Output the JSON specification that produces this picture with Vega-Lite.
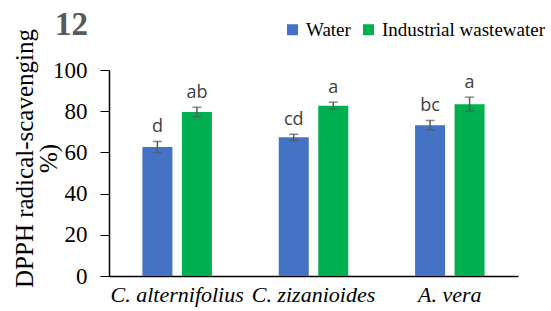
{
  "$schema": "https://vega.github.io/schema/vega-lite/v6.json",
  "width": 409,
  "height": 206,
  "autosize": {"type": "none"},
  "padding": {"left": 109, "top": 70, "right": 33, "bottom": 35},
  "background": "white",
  "title": {
    "text": "12",
    "anchor": "start",
    "frame": "group",
    "dx": -54,
    "dy": 48,
    "baseline": "alphabetic",
    "offset": 0,
    "font": "Liberation Serif",
    "fontSize": 33,
    "fontWeight": "bold",
    "color": "#595959"
  },
  "data": {
    "values": [
      {"species": "C. alternifolius", "treatment": "Water", "value": 62.6, "lo": 59.9, "hi": 65.3, "label": "d"},
      {"species": "C. alternifolius", "treatment": "Industrial wastewater", "value": 79.6, "lo": 77.3, "hi": 81.9, "label": "ab"},
      {"species": "C. zizanioides", "treatment": "Water", "value": 67.3, "lo": 65.8, "hi": 68.8, "label": "cd"},
      {"species": "C. zizanioides", "treatment": "Industrial wastewater", "value": 82.7, "lo": 81.0, "hi": 84.4, "label": "a"},
      {"species": "A. vera", "treatment": "Water", "value": 73.2, "lo": 70.9, "hi": 75.5, "label": "bc"},
      {"species": "A. vera", "treatment": "Industrial wastewater", "value": 83.4, "lo": 80.0, "hi": 86.8, "label": "a"}
    ]
  },
  "encoding": {
    "x": {
      "field": "species",
      "type": "nominal",
      "sort": ["C. alternifolius", "C. zizanioides", "A. vera"],
      "scale": {"paddingInner": 0.49, "paddingOuter": 0.245},
      "axis": {
        "title": null,
        "labelAngle": 0,
        "ticks": false,
        "domainColor": "#000000",
        "domainWidth": 1.5,
        "labelFont": "Liberation Serif",
        "labelFontStyle": "italic",
        "labelFontSize": 22,
        "labelColor": "#000000",
        "labelPadding": 8,
        "labelLimit": 0
      }
    },
    "xOffset": {
      "field": "treatment",
      "type": "nominal",
      "sort": ["Water", "Industrial wastewater"],
      "scale": {"paddingInner": 0.24, "paddingOuter": 0}
    }
  },
  "layer": [
    {
      "mark": {"type": "bar"},
      "encoding": {
        "y": {
          "field": "value",
          "type": "quantitative",
          "scale": {"domain": [0, 100]},
          "axis": {
            "values": [0, 20, 40, 60, 80, 100],
            "grid": false,
            "title": ["DPPH radical-scavenging", "%)"],
            "titleFont": "Liberation Serif",
            "titleFontSize": 25,
            "titleFontWeight": "normal",
            "titleColor": "#000000",
            "titleAngle": -90,
            "titleX": -97,
            "titleY": 88,
            "titleAlign": "center",
            "titleBaseline": "top",
            "titleLineHeight": 24,
            "titleLimit": 0,
            "labelFont": "Liberation Serif",
            "labelFontSize": 23,
            "labelColor": "#000000",
            "labelPadding": 13,
            "tickSize": 9,
            "tickColor": "#000000",
            "domainColor": "#000000",
            "domainWidth": 1.5
          }
        },
        "color": {
          "field": "treatment",
          "type": "nominal",
          "sort": ["Water", "Industrial wastewater"],
          "scale": {"domain": ["Water", "Industrial wastewater"], "range": ["#4472C4", "#00B050"]},
          "legend": {
            "title": null,
            "orient": "none",
            "direction": "horizontal",
            "legendX": 174,
            "legendY": -50,
            "padding": 0,
            "symbolType": "square",
            "symbolSize": 121,
            "symbolStrokeWidth": 0,
            "labelFont": "Liberation Serif",
            "labelFontSize": 19,
            "labelColor": "#000000",
            "labelOffset": 4,
            "labelLimit": 0,
            "columnPadding": 8
          }
        }
      }
    },
    {
      "mark": {"type": "rule", "color": "#595959", "strokeWidth": 1.5},
      "encoding": {
        "y": {"field": "lo", "type": "quantitative"},
        "y2": {"field": "hi"}
      }
    },
    {
      "mark": {"type": "tick", "color": "#595959", "thickness": 1.5, "size": 9, "orient": "horizontal"},
      "encoding": {"y": {"field": "lo", "type": "quantitative"}}
    },
    {
      "mark": {"type": "tick", "color": "#595959", "thickness": 1.5, "size": 9, "orient": "horizontal"},
      "encoding": {"y": {"field": "hi", "type": "quantitative"}}
    },
    {
      "mark": {"type": "text", "baseline": "alphabetic", "dy": -9, "font": "Open Sans", "fontSize": 18, "color": "#404040"},
      "encoding": {
        "y": {"field": "hi", "type": "quantitative"},
        "text": {"field": "label"}
      }
    }
  ],
  "config": {"view": {"stroke": null}}
}
